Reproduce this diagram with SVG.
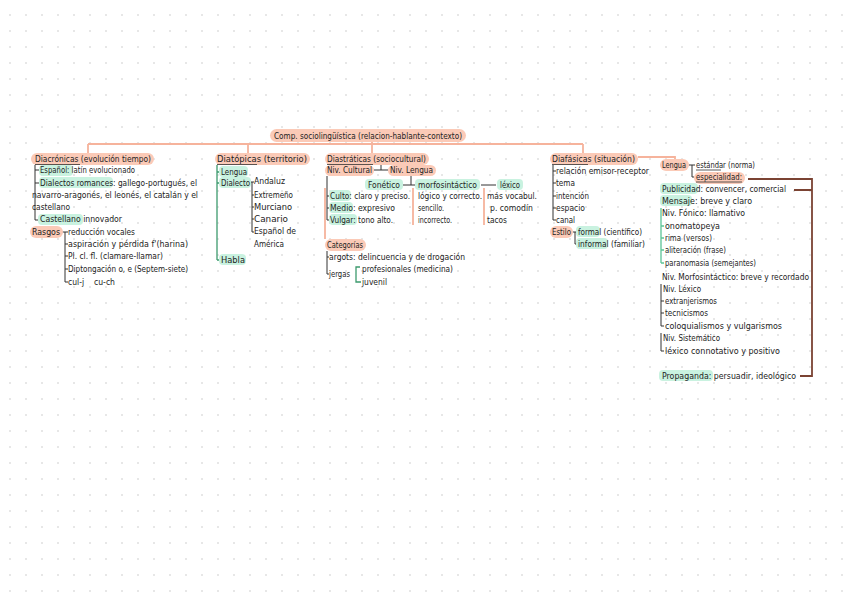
<svg xmlns="http://www.w3.org/2000/svg" width="848" height="599" viewBox="0 0 848 599">
<defs>
<pattern id="dots" x="2" y="7" width="16" height="16" patternUnits="userSpaceOnUse"><rect x="7.2" y="7.2" width="1.6" height="1.6" fill="#d9d9d9"/></pattern>
<style>
.t{font-family:"DejaVu Sans Condensed","DejaVu Sans","Liberation Sans",sans-serif;font-size:9.5px;fill:#222}
.p{fill:#fbcab7}
.m{fill:#c9f2e0}
.s{stroke:#f6b39c;stroke-width:1.8;fill:none}
.d{stroke:#333;stroke-width:1;fill:none}
.g{stroke:#3d9a6e;stroke-width:1.3;fill:none}
.gl{stroke:#5cc497;stroke-width:1.3;fill:none}
.b{stroke:#7b4333;stroke-width:1.8;fill:none}
.u{stroke:#333;stroke-width:0.8}
</style>
</defs>
<rect width="848" height="599" fill="#ffffff"/>
<rect width="848" height="599" fill="url(#dots)"/>

<g id="connectors">
<path class="s" d="M372,142V154M88,144H583M88,144V154M248,144V154M583,144V154M638,157H675V160"/>
<path class="s" d="M325,188V239M413,188V225M484,188V225"/>
<path class="d" d="M35,165V220M35,170H39M35,183H39M35,220H39"/>
<path class="d" d="M62,232H68M65,232V282M65,244H68M65,256H68M65,269H68M65,282H68"/>
<path class="g" d="M217,165V260M217,172H220M217,183H220M217,260H220"/>
<path class="d" d="M250,182H254M252,182V232M252,195H254M252,207H254M252,219H254M252,232H254"/>
<path class="d" d="M374,170H388M381,165V170"/>
<path class="d" d="M327,176V220M327,196H330M327,208H330M327,220H330"/>
<path class="d" d="M411,176V185M403,185H416M481,185H496"/>
<path class="d" d="M327,251V274M327,257H329M327,274H329"/>
<path class="g" d="M360,267H356V282H361"/>
<path class="d" d="M553,165V220M553,171H556M553,183H556M553,196H556M553,208H556M553,220H556"/>
<path class="d" d="M573,232H577M575,232V244H578"/>
<path class="d" d="M689,165H695M692,165V177H694"/>
<path class="b" d="M748,179H812V376H800M794,190H812"/>
<path class="gl" d="M661,208V263M661,226H664M661,238H664M661,250H664M661,263H664"/>
<path class="d" d="M661,284V326M661,301H664M661,313H664M661,326H664"/>
<path class="d" d="M661,333V351H664"/>
</g>

<g id="title"><rect class="p" x="270" y="129" width="196" height="13" rx="6.5"/><text class="t" x="274" y="139" textLength="188" lengthAdjust="spacingAndGlyphs">Comp. sociolingüística (relacion-hablante-contexto)</text></g>

<g id="diacronicas">
<rect class="p" x="31" y="153" width="123" height="12" rx="6"/>
<text class="t" x="35" y="162.3" textLength="116" lengthAdjust="spacingAndGlyphs">Diacrónicas (evolución tiempo)</text>
<line class="u" x1="35" y1="164.5" x2="80" y2="164.5"/>
</g>
<g id="espanol"><rect class="m" x="39" y="165" width="34" height="11" rx="4"/><text class="t" x="40" y="173.3" textLength="95" lengthAdjust="spacingAndGlyphs">Español: latín evolucionado</text></g>
<g id="dialectos-romances"><rect class="m" x="39" y="177" width="74" height="11" rx="4"/>
<text class="t" x="40" y="186.3" textLength="157" lengthAdjust="spacingAndGlyphs">Dialectos romances: gallego-portugués, el</text>
<text class="t" x="32" y="198.3" textLength="166" lengthAdjust="spacingAndGlyphs">navarro-aragonés, el leonés, el catalán y el</text>
<text class="t" x="32" y="210.3" textLength="38" lengthAdjust="spacingAndGlyphs">castellano</text></g>
<g id="castellano"><rect class="m" x="38" y="214" width="45" height="11" rx="4"/><text class="t" x="40" y="222.3" textLength="82" lengthAdjust="spacingAndGlyphs">Castellano innovador</text></g>
<g id="rasgos"><rect class="p" x="30" y="226" width="33" height="12" rx="6"/><text class="t" x="32" y="235.3" textLength="28" lengthAdjust="spacingAndGlyphs">Rasgos</text></g>
<g id="rasgo-1"><text class="t" x="68" y="235.3" textLength="67" lengthAdjust="spacingAndGlyphs">reducción vocales</text></g>
<g id="rasgo-2"><text class="t" x="68" y="247.3" textLength="120" lengthAdjust="spacingAndGlyphs">aspiración y pérdida f'(harina)</text></g>
<g id="rasgo-3"><text class="t" x="68" y="259.3" textLength="95" lengthAdjust="spacingAndGlyphs">Pl. cl. fl. (clamare-llamar)</text></g>
<g id="rasgo-4"><text class="t" x="68" y="272.3" textLength="120" lengthAdjust="spacingAndGlyphs">Diptongación o, e (Septem-siete)</text></g>
<g id="rasgo-5"><text class="t" x="68" y="285.3" textLength="16" lengthAdjust="spacingAndGlyphs">cul-j</text><text class="t" x="94" y="285.3" textLength="21" lengthAdjust="spacingAndGlyphs">cu-ch</text></g>

<g id="diatopicas">
<rect class="p" x="215" y="153" width="95" height="12" rx="6"/>
<text class="t" x="217" y="162.3" textLength="90" lengthAdjust="spacingAndGlyphs">Diatópicas (territorio)</text>
<line class="u" x1="217" y1="164.5" x2="257" y2="164.5"/>
</g>
<g id="lengua-t"><rect class="m" x="219" y="166" width="29" height="11" rx="4"/><text class="t" x="221" y="175.3" textLength="26" lengthAdjust="spacingAndGlyphs">Lengua</text></g>
<g id="dialecto"><rect class="m" x="219" y="177" width="32" height="11" rx="4"/><text class="t" x="221" y="186.3" textLength="29" lengthAdjust="spacingAndGlyphs">Dialecto</text></g>
<g id="andaluz"><text class="t" x="254" y="184.3" textLength="31" lengthAdjust="spacingAndGlyphs">Andaluz</text></g>
<g id="extremeno"><text class="t" x="254" y="198.3" textLength="39" lengthAdjust="spacingAndGlyphs">Extremeño</text></g>
<g id="murciano"><text class="t" x="254" y="210.3" textLength="38" lengthAdjust="spacingAndGlyphs">Murciano</text></g>
<g id="canario"><text class="t" x="254" y="222.3" textLength="34" lengthAdjust="spacingAndGlyphs">Canario</text></g>
<g id="espanol-america"><text class="t" x="254" y="234.3" textLength="42" lengthAdjust="spacingAndGlyphs">Español de</text><text class="t" x="254" y="247.3" textLength="30" lengthAdjust="spacingAndGlyphs">América</text></g>
<g id="habla"><rect class="m" x="219" y="254" width="27" height="11" rx="4"/><text class="t" x="221" y="263.3" textLength="24" lengthAdjust="spacingAndGlyphs">Habla</text></g>

<g id="diastraticas">
<rect class="p" x="325" y="153" width="104" height="12" rx="6"/>
<text class="t" x="327" y="162.3" textLength="99" lengthAdjust="spacingAndGlyphs">Diastráticas (sociocultural)</text>
<line class="u" x1="327" y1="164.5" x2="373" y2="164.5"/>
</g>
<g id="niv-cultural"><rect class="p" x="325" y="165" width="49" height="11" rx="5.5"/><text class="t" x="327" y="173.3" textLength="45" lengthAdjust="spacingAndGlyphs">Niv. Cultural</text></g>
<g id="niv-lengua"><rect class="p" x="388" y="165" width="48" height="11" rx="5.5"/><text class="t" x="390" y="173.3" textLength="43" lengthAdjust="spacingAndGlyphs">Niv. Lengua</text></g>
<g id="fonetico"><rect class="m" x="365" y="179" width="38" height="11" rx="4"/><text class="t" x="368" y="188.3" textLength="32" lengthAdjust="spacingAndGlyphs">Fonético</text></g>
<g id="morfosintactico"><rect class="m" x="415" y="179" width="65" height="11" rx="4"/><text class="t" x="418" y="188.3" textLength="59" lengthAdjust="spacingAndGlyphs">morfosintáctico</text></g>
<g id="lexico"><rect class="m" x="497" y="179" width="26" height="11" rx="4"/><text class="t" x="500" y="188.3" textLength="20" lengthAdjust="spacingAndGlyphs">léxico</text></g>
<g id="culto"><rect class="m" x="329" y="190" width="22" height="11" rx="4"/><text class="t" x="330" y="199.3" textLength="80" lengthAdjust="spacingAndGlyphs">Culto: claro y preciso.</text></g>
<g id="medio"><rect class="m" x="329" y="202" width="24" height="11" rx="4"/><text class="t" x="330" y="211.3" textLength="65" lengthAdjust="spacingAndGlyphs">Medio: expresivo</text></g>
<g id="vulgar"><rect class="m" x="329" y="214" width="28" height="11" rx="4"/><text class="t" x="330" y="223.3" textLength="63" lengthAdjust="spacingAndGlyphs">Vulgar: tono alto.</text></g>
<g id="morfo-items"><text class="t" x="418" y="199.3" textLength="64" lengthAdjust="spacingAndGlyphs">lógico y correcto.</text><text class="t" x="418" y="211.3" textLength="26" lengthAdjust="spacingAndGlyphs">sencillo.</text><text class="t" x="418" y="223.3" textLength="34" lengthAdjust="spacingAndGlyphs">incorrecto.</text></g>
<g id="lexico-items"><text class="t" x="487" y="199.3" textLength="50" lengthAdjust="spacingAndGlyphs">más vocabul.</text><text class="t" x="490" y="211.3" textLength="43" lengthAdjust="spacingAndGlyphs">p. comodín</text><text class="t" x="487" y="223.3" textLength="20" lengthAdjust="spacingAndGlyphs">tacos</text></g>
<g id="categorias"><rect class="p" x="325" y="239" width="41" height="12" rx="6"/><text class="t" x="327" y="248.3" textLength="36" lengthAdjust="spacingAndGlyphs">Categorías</text></g>
<g id="argots"><text class="t" x="329" y="260.3" textLength="136" lengthAdjust="spacingAndGlyphs">argots: delincuencia y de drogación</text></g>
<g id="jergas"><text class="t" x="329" y="277.3" textLength="21" lengthAdjust="spacingAndGlyphs">jergas</text></g>
<g id="profesionales"><text class="t" x="362" y="271.8" textLength="91" lengthAdjust="spacingAndGlyphs">profesionales (medicina)</text></g>
<g id="juvenil"><text class="t" x="362" y="284.5" textLength="25" lengthAdjust="spacingAndGlyphs">juvenil</text></g>

<g id="diafasicas">
<rect class="p" x="550" y="153" width="88" height="12" rx="6"/>
<text class="t" x="552" y="162.3" textLength="83" lengthAdjust="spacingAndGlyphs">Diafásicas (situación)</text>
<line class="u" x1="552" y1="164.5" x2="588" y2="164.5"/>
</g>
<g id="relacion"><text class="t" x="556" y="174.3" textLength="93" lengthAdjust="spacingAndGlyphs">relación emisor-receptor</text></g>
<g id="tema"><text class="t" x="556" y="186.3" textLength="19" lengthAdjust="spacingAndGlyphs">tema</text></g>
<g id="intencion"><text class="t" x="556" y="199.3" textLength="33" lengthAdjust="spacingAndGlyphs">intención</text></g>
<g id="espacio"><text class="t" x="556" y="211.3" textLength="29" lengthAdjust="spacingAndGlyphs">espacio</text></g>
<g id="canal"><text class="t" x="556" y="223.3" textLength="19" lengthAdjust="spacingAndGlyphs">canal</text></g>
<g id="estilo"><rect class="p" x="550" y="226" width="23" height="12" rx="6"/><text class="t" x="552" y="235.3" textLength="19" lengthAdjust="spacingAndGlyphs">Estilo</text></g>
<g id="formal"><rect class="m" x="576" y="226" width="24" height="11" rx="4"/><text class="t" x="578" y="235.3" textLength="64" lengthAdjust="spacingAndGlyphs">formal (científico)</text></g>
<g id="informal"><rect class="m" x="576" y="238" width="32" height="11" rx="4"/><text class="t" x="578" y="247.3" textLength="67" lengthAdjust="spacingAndGlyphs">informal (familiar)</text></g>

<g id="lengua"><rect class="p" x="660" y="159" width="29" height="12" rx="6"/><text class="t" x="662" y="168.3" textLength="24" lengthAdjust="spacingAndGlyphs">Lengua</text></g>
<g id="estandar"><text class="t" x="696" y="168.3" textLength="59" lengthAdjust="spacingAndGlyphs">estándar (norma)</text><line class="u" x1="696" y1="170" x2="721" y2="170"/></g>
<g id="especialidad"><rect class="p" x="694" y="172" width="51" height="12" rx="6"/><text class="t" x="696" y="180.3" textLength="46" lengthAdjust="spacingAndGlyphs">especialidad:</text><line class="u" x1="696" y1="182" x2="742" y2="182"/></g>
<g id="publicidad"><rect class="m" x="660" y="183" width="38" height="11" rx="4"/><text class="t" x="662" y="192.3" textLength="124" lengthAdjust="spacingAndGlyphs">Publicidad: convencer, comercial</text></g>
<g id="mensaje"><rect class="m" x="660" y="195" width="32" height="11" rx="4"/><text class="t" x="662" y="204.3" textLength="90" lengthAdjust="spacingAndGlyphs">Mensaje: breve y claro</text></g>
<g id="niv-fonico"><text class="t" x="662" y="216.3" textLength="83" lengthAdjust="spacingAndGlyphs">Niv. Fónico: llamativo</text></g>
<g id="onomatopeya"><text class="t" x="665" y="229.3" textLength="55" lengthAdjust="spacingAndGlyphs">onomatopeya</text></g>
<g id="rima"><text class="t" x="665" y="241.3" textLength="47" lengthAdjust="spacingAndGlyphs">rima (versos)</text></g>
<g id="aliteracion"><text class="t" x="665" y="253.3" textLength="61" lengthAdjust="spacingAndGlyphs">aliteración (frase)</text></g>
<g id="paranomasia"><text class="t" x="665" y="266.3" textLength="91" lengthAdjust="spacingAndGlyphs">paranomasia (semejantes)</text></g>
<g id="niv-morfo"><text class="t" x="662" y="280.3" textLength="147" lengthAdjust="spacingAndGlyphs">Niv. Morfosintáctico: breve y recordado</text></g>
<g id="niv-lexico"><text class="t" x="663" y="292.3" textLength="38" lengthAdjust="spacingAndGlyphs">Niv. Léxico</text></g>
<g id="extranjerismos"><text class="t" x="665" y="304.3" textLength="52" lengthAdjust="spacingAndGlyphs">extranjerismos</text></g>
<g id="tecnicismos"><text class="t" x="665" y="316.3" textLength="43" lengthAdjust="spacingAndGlyphs">tecnicismos</text></g>
<g id="coloquialismos"><text class="t" x="665" y="329.3" textLength="117" lengthAdjust="spacingAndGlyphs">coloquialismos y vulgarismos</text></g>
<g id="niv-sistematico"><text class="t" x="663" y="341.3" textLength="57" lengthAdjust="spacingAndGlyphs">Niv. Sistemático</text></g>
<g id="lexico-connotativo"><text class="t" x="665" y="354.3" textLength="115" lengthAdjust="spacingAndGlyphs">léxico connotativo y positivo</text></g>
<g id="propaganda"><rect class="m" x="659" y="370" width="54" height="11" rx="4"/><text class="t" x="662" y="379.3" textLength="134" lengthAdjust="spacingAndGlyphs">Propaganda: persuadir, ideológico</text></g>
</svg>
